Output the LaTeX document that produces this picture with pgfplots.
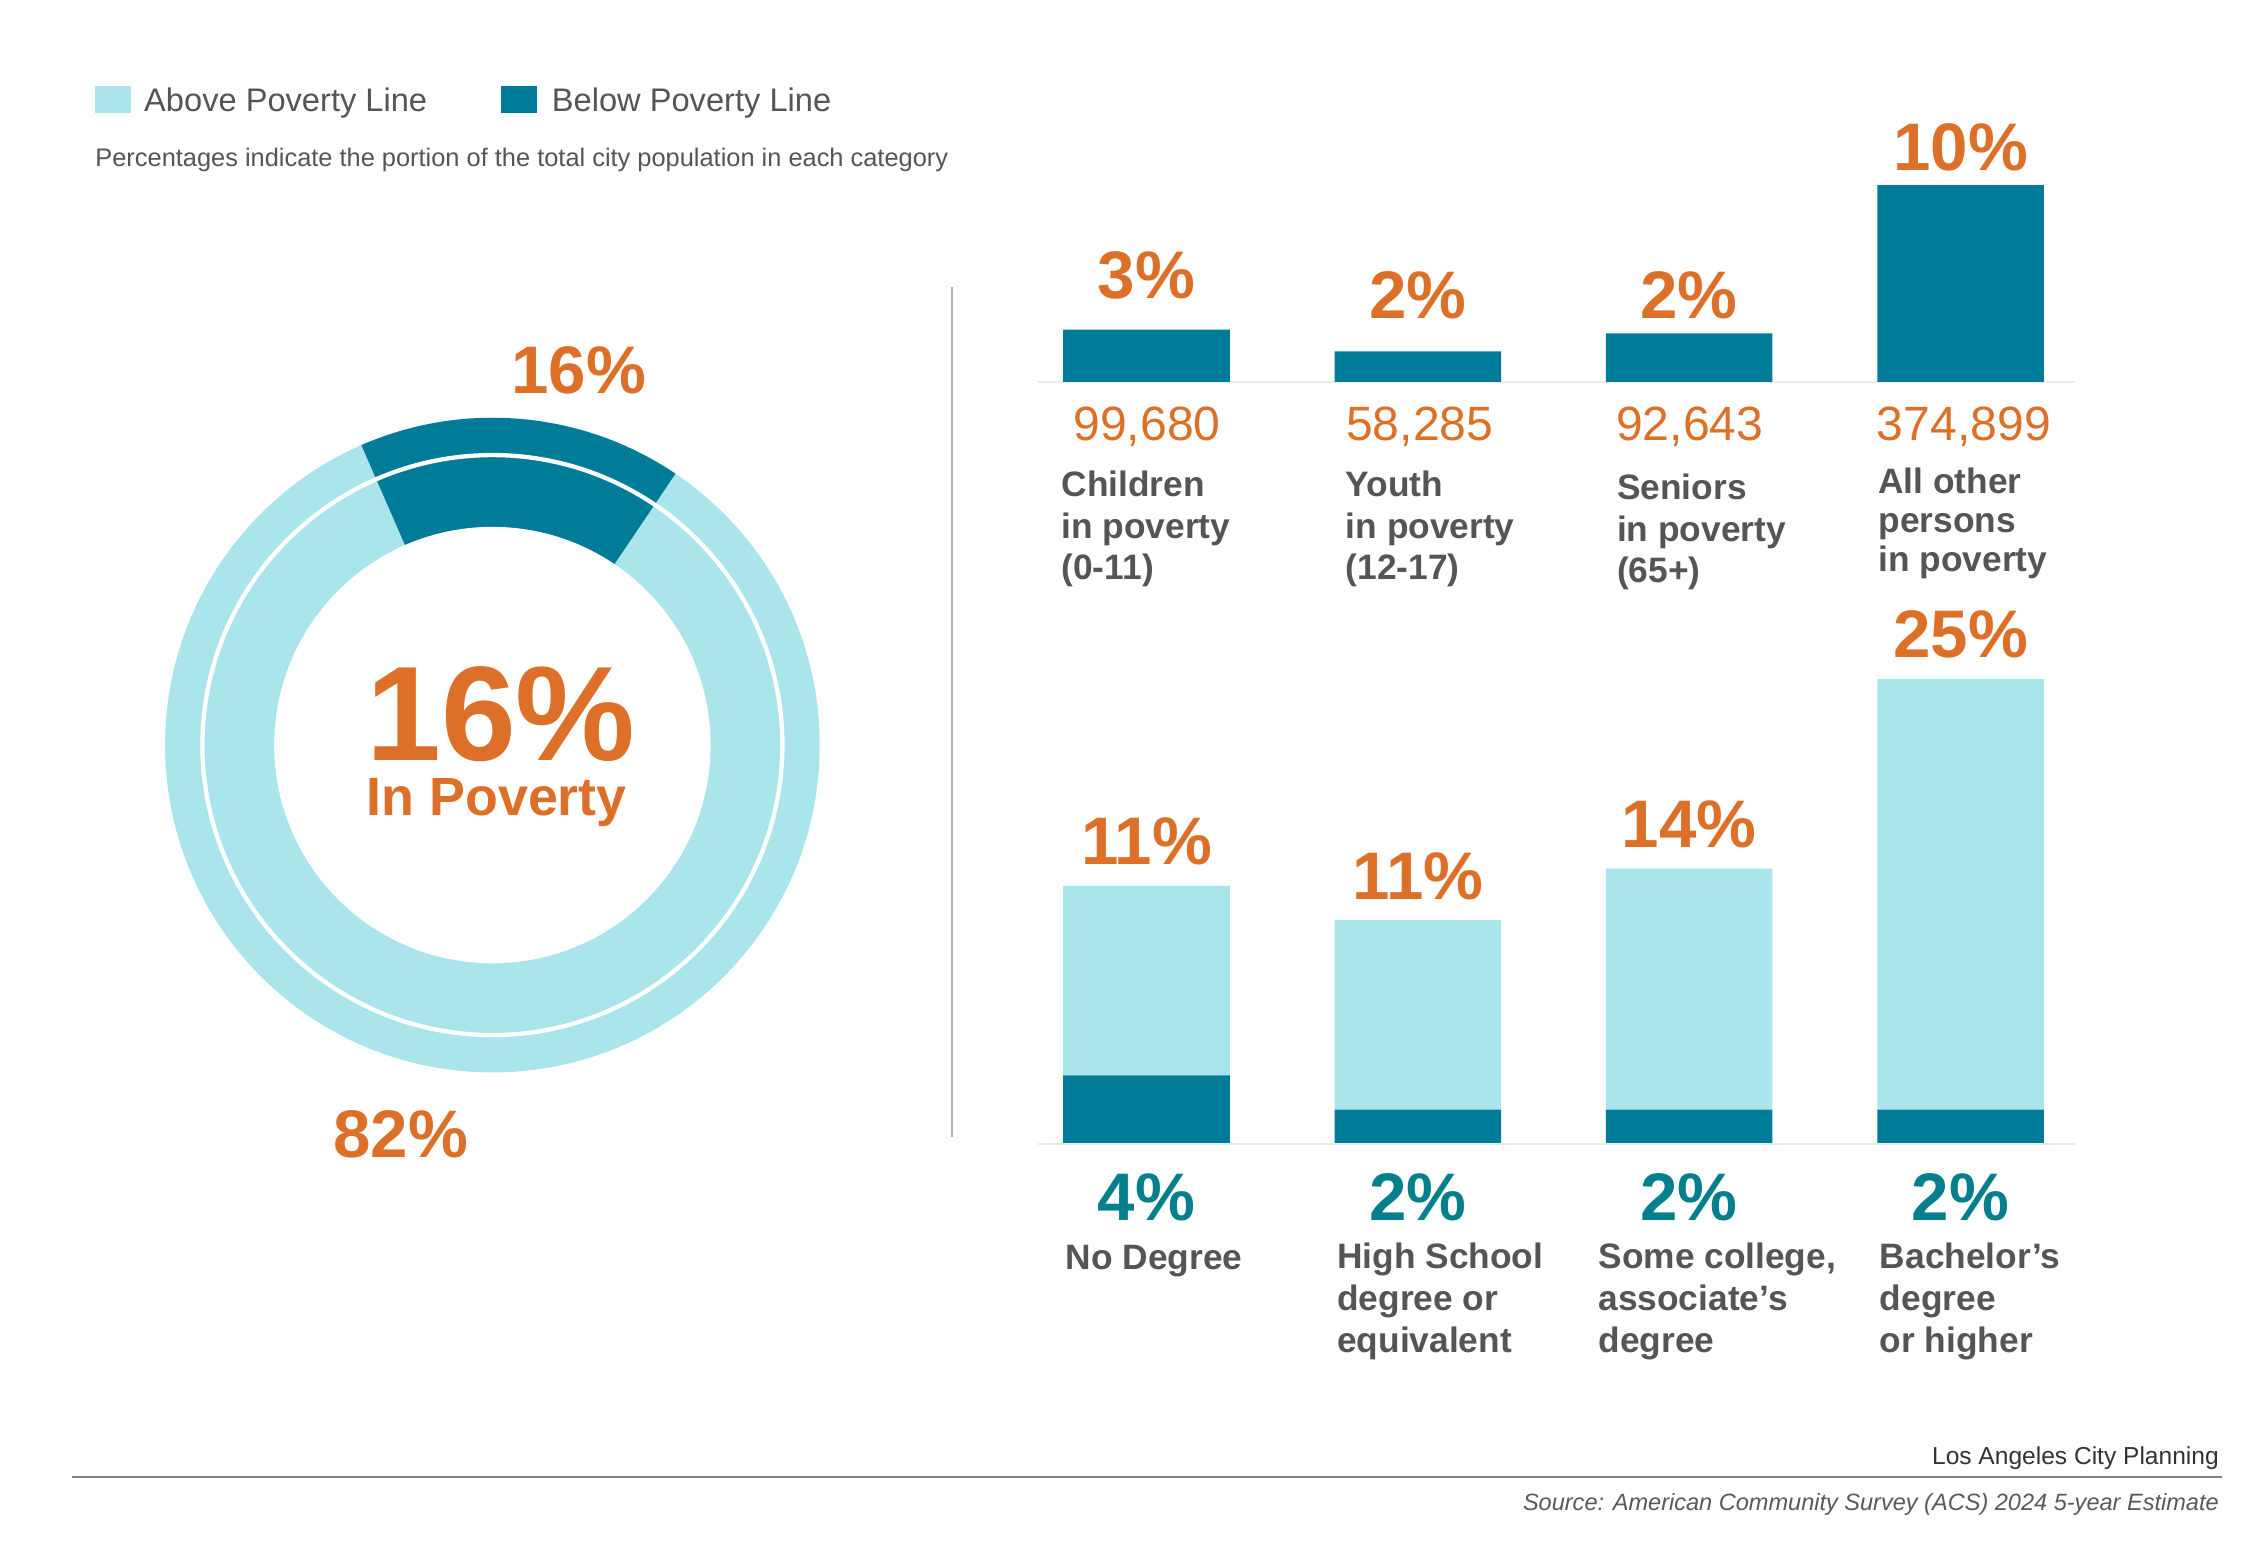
\documentclass[border=0pt]{standalone}
\usepackage{pgfplots}
\pgfplotsset{compat=1.18}
\usepackage{pgfplotstable}
\usepackage{fontspec}
\setmainfont{Liberation Sans}

\definecolor{abovecol}{HTML}{A9E5EA}
\definecolor{belowcol}{HTML}{007B98}
\definecolor{accent}{HTML}{DD7029}
\definecolor{tealtxt}{HTML}{03808C}
\definecolor{txt}{HTML}{555555}

\newcommand\fs[2]{\fontsize{#1}{#2}\selectfont}

% Persons in poverty by age group
\pgfplotstableread{
idx count share
0 99680 3
1 58285 2
2 92643 2
3 374899 10
}\poverty

% Population share by educational attainment (percent of city)
\pgfplotstableread{
idx below above
0 4 11
1 2 11
2 2 14
3 2 25
}\edu

% Citywide split
\pgfplotstableread{
part share
below 16
above 82
}\citywide

\pgfplotstablegetelem{0}{share}\of\citywide
\pgfmathsetmacro\darkstart{56}
\pgfmathsetmacro\darkend{\darkstart+3.6*\pgfplotsretval}

\begin{document}
\begin{tikzpicture}
\fill[white] (0,0) rectangle (1568*0.15mm,-1080*0.15mm);

% donut: citywide population above / below the poverty line
\begin{axis}[
  at={(343*0.15mm,-519*0.15mm)}, anchor=center,
  scale only axis, width=68.4mm, height=68.4mm,
  xmin=-228, xmax=228, ymin=-228, ymax=228,
  axis lines=none, clip=false]
  \addplot[draw=none] coordinates {(0,0)};
  \fill[abovecol] (axis cs:0,0) circle[radius=34.2mm];
  \fill[belowcol] (axis cs:0,0) -- ++(\darkstart:34.2mm)
     arc[start angle=\darkstart, end angle=\darkend, radius=34.2mm] -- cycle;
  \fill[white] (axis cs:0,0) circle[radius=22.8mm];
  \draw[white, line width=0.45mm] (axis cs:0,0) circle[radius=30.3mm];
\end{axis}

% persons in poverty by age group
\begin{axis}[
  at={(723*0.15mm,-266*0.15mm)}, anchor=south west,
  scale only axis, width=108.3mm, height=20.55mm,
  xmin=-0.4, xmax=3.42, ymin=0, ymax=374899,
  axis lines=none, clip=false,
  ybar, bar width=17.4mm]
  \draw[black!8, line width=0.25mm] (axis cs:-0.4,0) -- (axis cs:3.42,0);
  \addplot[fill=belowcol, draw=none] table[x=idx, y=count] {\poverty};
  \node[anchor=base, inner sep=0, text=accent, font=\bfseries\fs{20}{22}, yshift=3.2mm] at (axis cs:0,99680) {3\%};
  \node[anchor=base, inner sep=0, text=accent, font=\bfseries\fs{20}{22}, yshift=3.4mm] at (axis cs:1,58285) {2\%};
  \node[anchor=base, inner sep=0, text=accent, font=\bfseries\fs{20}{22}, yshift=1.5mm] at (axis cs:2,92643) {2\%};
  \node[anchor=base, inner sep=0, text=accent, font=\bfseries\fs{20}{22}, yshift=1.5mm] at (axis cs:3,374899) {10\%};
\end{axis}

% population by educational attainment
\begin{axis}[
  at={(723*0.15mm,-797*0.15mm)}, anchor=south west,
  scale only axis, width=108.3mm, height=54mm,
  xmin=-0.4, xmax=3.42, ymin=0, ymax=30,
  axis lines=none, clip=false,
  ybar stacked, bar width=17.4mm]
  \draw[black!8, line width=0.25mm] (axis cs:-0.4,0) -- (axis cs:3.42,0);
  \addplot[fill=belowcol, draw=none] table[x=idx, y=below] {\edu};
  \addplot[fill=abovecol, draw=none] table[x=idx, y=above] {\edu};
  \foreach \i/\b/\a in {0/4/11, 1/2/11, 2/2/14, 3/2/25} {
    \edef\temp{\noexpand\node[anchor=base, inner sep=0, text=accent, font=\noexpand\bfseries\noexpand\fs{20}{22}, yshift=2.2mm] at (axis cs:\i,\b+\a) {\a\noexpand\%};
      \noexpand\node[anchor=base, inner sep=0, text=tealtxt, font=\noexpand\bfseries\noexpand\fs{20}{22}, yshift=-7.95mm] at (axis cs:\i,0) {\b\noexpand\%};}
    \temp
  }
\end{axis}

\begin{scope}[x=0.15mm,y=-0.15mm]
  % legend
  \fill[abovecol] (66,60) rectangle (91,79);
  \node[anchor=base west, inner sep=0, text=txt, font=\fs{9.7}{11}] at (100,78) {Above Poverty Line};
  \fill[belowcol] (349,60) rectangle (374,79);
  \node[anchor=base west, inner sep=0, text=txt, font=\fs{9.7}{11}] at (384,78) {Below Poverty Line};
  \node[anchor=base west, inner sep=0, text=txt, font=\fs{7.55}{9}] at (66,116) {Percentages indicate the portion of the total city population in each category};

  % separator
  \draw[black!30, line width=0.2mm] (663,200) -- (663,792);

  % donut labels
  \node[anchor=base, inner sep=0, text=accent, font=\bfseries\fs{20}{22}] at (403,274) {16\%};
  \node[anchor=base, inner sep=0, text=accent, font=\bfseries\fs{20}{22}] at (279,806) {82\%};
  \node[anchor=base, inner sep=0, text depth=0pt, text=accent, font=\bfseries\fs{40}{44}] at (349,530) {16\%};
  \node[anchor=base, inner sep=0, text height=11.5pt, text=accent, font=\bfseries\fs{16}{18}] at (346,568) {In Poverty};

  % age group labels (anchored on the last line)
  \foreach \x/\y/\t in {739/404/{Children\\in poverty\\(0-11)},
                        937/404/{Youth\\in poverty\\(12-17)},
                        1126/406/{Seniors\\in poverty\\(65+)}}
    \node[anchor=base west, inner sep=0, align=left, text=txt, font=\bfseries\fs{10.5}{12.4}] at (\x,\y) {\t};
  \node[anchor=base west, inner sep=0, align=left, text=txt, font=\bfseries\fs{10.5}{11.6}] at (1308,398) {All other\\persons\\in poverty};
  \foreach \x/\t in {799/{99,680}, 989/{58,285}, 1177/{92,643}, 1368/{374,899}}
    \node[anchor=base, inner sep=0, text=accent, font=\fs{14.3}{16}] at (\x,307) {\t};

  % education labels (anchored on the last line)
  \node[anchor=base west, inner sep=0, text=txt, font=\bfseries\fs{10.5}{12.4}] at (742,884) {No Degree};
  \foreach \x/\t in {931/{High School\\degree or\\equivalent},
                     1113/{Some college,\\associate’s\\degree},
                     1309/{Bachelor’s\\degree\\or higher}}
    \node[anchor=base west, inner sep=0, align=left, text=txt, font=\bfseries\fs{10.5}{12.4}] at (\x,942) {\t};

  % footer
  \node[anchor=base east, inner sep=0, text=black!80, font=\fs{7.3}{9}] at (1546,1020) {Los Angeles City Planning};
  \draw[black!50, line width=0.25mm] (50,1029) -- (1548,1029);
  \node[anchor=base east, inner sep=0, text=black!65, font=\itshape\fs{7.0}{9}] at (1546,1052) {Source: American Community Survey (ACS) 2024 5-year Estimate};
\end{scope}

\pgfresetboundingbox
\path[use as bounding box] (0,0) rectangle (1568*0.15mm,-1080*0.15mm);
\end{tikzpicture}
\end{document}
